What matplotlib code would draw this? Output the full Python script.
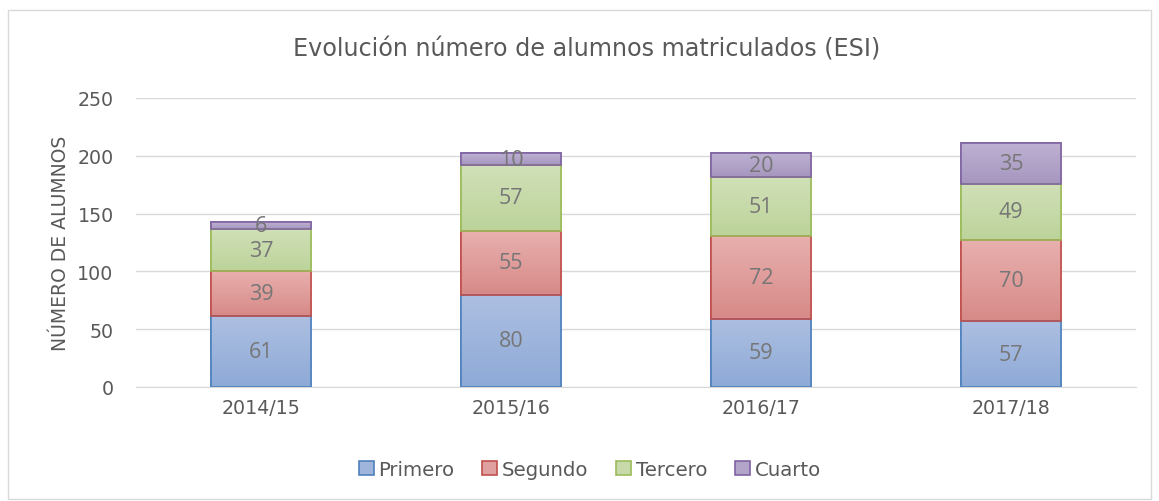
import matplotlib
matplotlib.use("Agg")
import matplotlib.pyplot as plt
from matplotlib.patches import Rectangle
from matplotlib.colors import to_rgb
import numpy as np

categories = ["2014/15", "2015/16", "2016/17", "2017/18"]
primero = [61, 80, 59, 57]
segundo = [39, 55, 72, 70]
tercero = [37, 57, 51, 49]
cuarto = [6, 10, 20, 35]
series_names = ["Primero", "Segundo", "Tercero", "Cuarto"]
fills = ["#a0b5dc", "#e0a09f", "#c8daac", "#b3a5ca"]
tops = ["#adbfe1", "#e8b0ae", "#d1e0b8", "#bdb1d2"]
bottoms = ["#8eaad7", "#d78a88", "#bcd39a", "#a696bf"]
edges = ["#4f81bd", "#c0504d", "#9bbb59", "#8064a2"]

plt.rcParams['font.family'] = ['DejaVu Sans']
txt = "#595959"

fig = plt.figure(figsize=(11.59, 5.02), dpi=100)
ax = fig.add_axes([0.1173, 0.2271, 0.8629, 0.5757])

x = np.arange(len(categories))
bottom = np.zeros(len(categories))
handles = []
for vals, name, fc, tc, bc, ec in zip([primero, segundo, tercero, cuarto], series_names, fills, tops, bottoms, edges):
    b = ax.bar(x, vals, 0.4, bottom=bottom, color=fc, edgecolor=ec, linewidth=1.2, label=name, zorder=3)
    handles.append(b)
    grad = np.linspace(0, 1, 64)[:, None]
    c_top = np.array(to_rgb(tc)); c_bot = np.array(to_rgb(bc))
    img = (c_top[None, None, :] * (1 - grad[:, :, None]) + c_bot[None, None, :] * grad[:, :, None])
    for patch in b.patches:
        px, py = patch.get_x(), patch.get_y()
        w, h = patch.get_width(), patch.get_height()
        im = ax.imshow(img, extent=(px, px + w, py, py + h), origin='upper', aspect='auto',
                       zorder=3.5, interpolation='bilinear')
        im.set_clip_path(patch)
        ax.add_patch(Rectangle((px, py), w, h, fill=False, edgecolor=ec, linewidth=1.2, zorder=3.6))
    for xi, v, bt in zip(x, vals, bottom):
        ax.text(xi, bt + v / 2, str(v), ha='center', va='center', fontsize=15.5, color="#767676",
                family=['Open Sans', 'DejaVu Sans'], zorder=5)
    bottom += np.array(vals)

ax.set_xlim(-0.5, len(categories) - 0.5)
ax.set_ylim(0, 250)
ax.set_yticks(range(0, 251, 50))
ax.set_xticks(x)
ax.set_xticklabels(categories)
ax.tick_params(axis='both', length=0, labelsize=13.7, colors=txt)
ax.tick_params(axis='y', pad=16)
ax.tick_params(axis='x', pad=8)
ax.grid(axis='y', color='#d9d9d9', linewidth=1, zorder=0)
for s in ['top', 'right', 'left']:
    ax.spines[s].set_visible(False)
ax.spines['bottom'].set_color('#d9d9d9')
ax.set_ylabel("NÚMERO DE ALUMNOS", fontsize=13.5, color=txt, labelpad=5)

fig.text(0.506, 0.902, "Evolución número de alumnos matriculados (ESI)", ha='center', va='center',
         fontsize=17.2, color=txt)

fig.legend(handles=handles, labels=series_names, loc='center', bbox_to_anchor=(0.509, 0.063),
           ncol=4, frameon=False, fontsize=14.2, labelcolor=txt, handlelength=0.75, handleheight=0.75,
           handletextpad=0.25, columnspacing=1.4)

fig.patches.append(Rectangle((0.007, 0.004), 0.986, 0.975, transform=fig.transFigure,
                             fill=False, edgecolor='#d9d9d9', linewidth=1))

fig.savefig("out.png", dpi=100)
